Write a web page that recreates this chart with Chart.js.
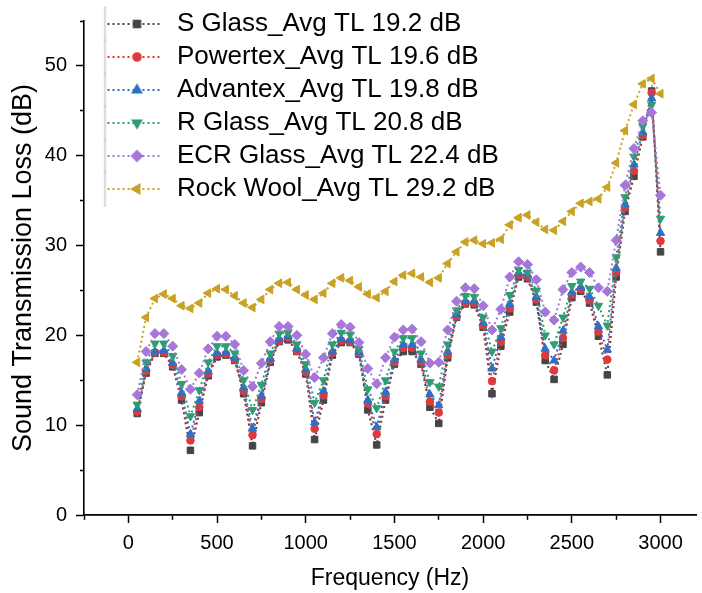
<!DOCTYPE html>
<html><head><meta charset="utf-8">
<script src="https://cdn.jsdelivr.net/npm/chart.js@4.4.1/dist/chart.umd.min.js"></script>
<style>html,body{margin:0;padding:0;background:#fff;}#wrap{width:702px;height:593px;position:relative;}</style>
</head><body><div id="wrap"><canvas id="c" width="702" height="593"></canvas></div>
<script>
// ---- data ----
const freq = [50,100,150,200,250,300,350,400,450,500,550,600,650,700,750,800,850,900,950,1000,
  1050,1100,1150,1200,1250,1300,1350,1400,1450,1500,1550,1600,1650,1700,1750,1800,1850,1900,1950,2000,
  2050,2100,2150,2200,2250,2300,2350,2400,2450,2500,2550,2600,2650,2700,2750,2800,2850,2900,2950,3000];

const sGlass = [11.3,15.8,18.0,18.0,16.5,12.8,7.2, 11.4,15.5,17.6,17.8,17.2,13.5,7.7,
  12.5,17.0,19.3,19.5,18.2,15.7,8.4, 12.8,17.8,19.2,19.2,17.9,11.7,7.8,
  12.8,16.8,18.2,18.2,16.8,12.0,10.2, 17.5,22.0,23.5,23.4,20.9,13.5,
  18.8,22.6,26.5,26.3,23.7,17.2,15.1, 19.0,24.2,24.9,23.6,19.9,15.6,
  26.5,33.8,37.7,42.1,47.2,29.3];
const powertex = [11.5,16.0,18.1,18.1,16.7,13.2,8.3, 12.0,15.7,17.8,17.9,17.3,13.8,8.9,
  12.9,17.2,19.4,19.7,18.3,15.9,9.6, 13.3,18.0,19.4,19.3,18.0,12.4,9.0,
  13.2,17.0,18.6,18.6,17.0,12.6,11.4, 17.8,22.1,23.6,23.6,21.1,14.9,
  19.3,23.0,26.7,26.5,24.0,17.8,16.1, 19.7,24.5,25.1,23.9,20.4,17.3,
  27.0,34.2,38.3,42.3,47.0,30.5];
const advantex = [11.8,16.3,18.2,18.3,16.9,13.6,9.0, 12.7,16.0,18.0,18.1,17.5,14.2,9.6,
  13.3,17.4,19.6,19.9,18.5,16.2,10.3, 13.8,18.2,19.6,19.5,18.1,12.8,9.8,
  13.7,17.3,19.0,19.0,17.3,13.4,12.2, 18.2,22.3,23.8,23.8,21.4,16.3,
  19.8,23.5,26.9,26.7,24.3,18.5,17.2, 20.5,24.8,25.4,24.3,21.0,18.4,
  27.5,34.6,39.0,42.6,46.4,31.4];
const rGlass = [12.3,17.0,19.1,19.1,17.7,14.6,11.0, 13.9,17.0,18.8,18.8,18.0,15.0,11.7,
  14.5,18.0,20.2,20.3,19.0,16.8,12.5, 15.0,19.0,20.3,20.1,18.5,14.0,11.9,
  15.0,18.2,19.7,19.7,18.0,14.8,14.3, 19.0,22.8,24.4,24.3,22.0,18.2,
  20.8,24.5,27.3,27.0,25.0,20.0,19.0, 22.0,25.5,26.0,25.2,23.3,21.1,
  28.7,35.4,39.9,43.3,45.7,33.0];
const ecrGlass = [13.4,18.2,20.2,20.2,18.8,16.2,14.0, 15.8,18.5,19.9,19.9,19.0,16.1,14.3,
  16.9,19.3,21.0,21.0,20.0,17.9,15.3, 17.5,20.2,21.2,20.9,19.2,16.3,14.6,
  17.5,19.8,20.6,20.7,19.3,16.9,17.0, 20.6,23.8,25.3,25.2,23.3,20.6,
  22.9,26.5,28.2,27.9,26.2,22.6,21.7, 25.1,27.0,27.6,27.0,25.3,24.9,
  30.6,36.7,40.8,43.9,44.8,35.6];
const rockWool = [17.0,22.0,24.1,24.6,24.1,23.3,23.0, 23.6,24.7,25.2,25.1,24.4,23.6,23.1,
  24.0,25.1,25.8,25.9,25.1,24.5,24.0, 24.7,25.8,26.4,26.1,25.4,24.6,24.2,
  24.9,26.0,26.7,26.9,26.5,25.9,26.4, 28.0,29.3,30.4,30.6,30.2,30.3,
  30.7,32.3,33.1,33.4,32.6,31.8,31.7, 32.7,33.8,34.7,34.9,35.2,36.5,
  39.2,42.8,45.7,48.0,48.6,46.9];

const seriesNames = ['S Glass_Avg TL 19.2 dB','Powertex_Avg TL 19.6 dB','Advantex_Avg TL 19.8 dB',
  'R Glass_Avg TL 20.8 dB','ECR Glass_Avg TL 22.4 dB','Rock Wool_Avg TL 29.2 dB'];
const seriesValues = [sGlass, powertex, advantex, rGlass, ecrGlass, rockWool];

const xTicks = [-250,0,250,500,750,1000,1250,1500,1750,2000,2250,2500,2750,3000];
const yTicks = [0,5,10,15,20,25,30,35,40,45,50,55];

// ---- styles ----
const colors = ['#454545','#e0393c','#2f6fc6','#2f9c72','#a676d8','#c9a124'];
const pStyles = ['rect','circle','triangle','triangle','rectRot','triangle'];
const pRot = [0,0,0,180,0,-90];
const pRad = [4.6,3.8,4.8,4.8,5.0,5.0];
const FONT = '"Liberation Sans", Arial, sans-serif';

function makeSample(i){
  const c = document.createElement('canvas');
  c.width = 68; c.height = 36;
  const g = c.getContext('2d');
  g.strokeStyle = '#c8c8c8'; g.lineWidth = 1.5;
  g.beginPath(); g.moveTo(11.5,0); g.lineTo(11.5,36); g.stroke();
  g.strokeStyle = colors[i]; g.lineWidth = 2; g.setLineDash([2,3]);
  g.beginPath(); g.moveTo(14,18); g.lineTo(68,18); g.stroke();
  g.setLineDash([]);
  g.fillStyle = colors[i]; g.strokeStyle = colors[i];
  Chart.helpers.drawPoint(g, {pointStyle:pStyles[i], radius:pRad[i], rotation:pRot[i], borderWidth:1}, 43.5, 18);
  return c;
}
const samples = seriesNames.map((n,i)=>makeSample(i));

const datasets = seriesNames.map((name,i)=>({
  label: name,
  data: freq.map((f,k)=>({x:f, y:seriesValues[i][k]})),
  borderColor: colors[i],
  backgroundColor: colors[i],
  borderWidth: 2,
  borderDash: [2,3],
  pointStyle: pStyles[i],
  pointRotation: pRot[i],
  pointRadius: pRad[i],
  pointBorderWidth: 1,
  pointBackgroundColor: colors[i],
  pointBorderColor: colors[i],
  tension: 0,
  order: 5 - i
}));

const isMajorX = v => v >= 0 && v % 500 === 0;
const isMajorY = v => v <= 50 && v % 10 === 0;

new Chart(document.getElementById('c'), {
  type: 'line',
  data: { datasets },
  options: {
    responsive: false,
    animation: false,
    devicePixelRatio: 1,
    layout: { padding: { top: 7, right: 0, bottom: 0, left: 0 } },
    plugins: {
      tooltip: { enabled: false },
      legend: {
        position: 'chartArea',
        align: 'start',
        title: { display: true, text: '', font: { size: 1 }, padding: 1.4 },
        labels: {
          usePointStyle: true,
          pointStyleWidth: 73,
          padding: 7,
          color: '#000',
          font: { family: FONT, size: 26 },
          generateLabels: chart => chart.data.datasets.map((ds,i)=>({
            text: ds.label, pointStyle: samples[i], fillStyle: 'rgba(0,0,0,0)',
            strokeStyle: 'rgba(0,0,0,0)', lineWidth: 0, hidden: false, datasetIndex: i, fontColor: '#000'
          }))
        }
      }
    },
    scales: {
      x: {
        type: 'linear', min: -250, max: 3200,
        afterBuildTicks: s => { s.ticks = xTicks.map(v=>({value:v})); },
        afterFit: s => { s.height = 78; },
        border: { display: true, color: '#000', width: 1.8 },
        grid: {
          drawOnChartArea: false, drawTicks: true, tickLength: 8, tickWidth: 1.5, tickColor: '#000',
          tickBorderDash: ctx => isMajorX(ctx.tick.value) ? [] : [4,20]
        },
        ticks: {
          autoSkip: false, maxRotation: 0, padding: 8, color: '#000',
          font: { family: FONT, size: 20 },
          callback: v => isMajorX(v) ? String(v) : ''
        },
        title: { display: true, text: 'Frequency (Hz)', color: '#000',
          font: { family: FONT, size: 23 }, padding: { top: 0, bottom: 1 } }
      },
      y: {
        type: 'linear', min: 0, max: 55,
        afterBuildTicks: s => { s.ticks = yTicks.map(v=>({value:v})); },
        afterFit: s => { s.width = 84; },
        border: { display: true, color: '#000', width: 1.6 },
        grid: {
          drawOnChartArea: false, drawTicks: true, tickLength: 8, tickWidth: 1.5, tickColor: '#000',
          tickBorderDash: ctx => isMajorY(ctx.tick.value) ? [] : [0,4,4,20]
        },
        ticks: {
          autoSkip: false, padding: 9, color: '#000',
          font: { family: FONT, size: 20 },
          callback: v => isMajorY(v) ? String(v) : ''
        },
        title: { display: true, text: 'Sound Transmission Loss (dB)', color: '#000',
          font: { family: FONT, size: 27 }, padding: { top: 7, bottom: 0 } }
      }
    }
  }
});
</script></body></html>
